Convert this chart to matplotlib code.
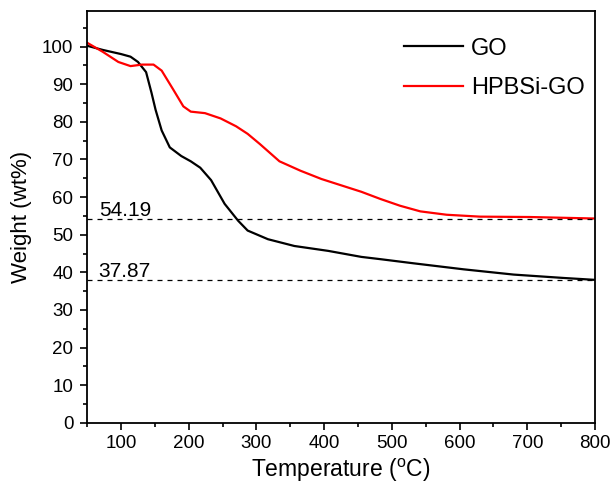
"""TGA curves of GO and HPBSi-GO."""

import matplotlib
matplotlib.use("Agg")
import matplotlib.pyplot as plt
from matplotlib.ticker import MultipleLocator

plt.rcParams["font.family"] = ["Liberation Sans", "DejaVu Sans"]
plt.rcParams["mathtext.fontset"] = "custom"
plt.rcParams["mathtext.rm"] = "Liberation Sans"

# values
go_temp = [50, 73, 100, 114, 125, 137, 145, 151, 160, 172, 189, 203, 217, 233,
           253, 273, 287, 317, 356, 406, 455, 483, 532, 606, 680, 754, 800]
go_weight = [100.2, 99.1, 98.0, 97.3, 95.9, 93.2, 87.7, 83.2, 77.7, 73.2, 70.9,
             69.5, 67.8, 64.5, 58.2, 53.7, 51.1, 48.8, 47.0, 45.7, 44.1, 43.5,
             42.4, 40.8, 39.4, 38.5, 38.0]

hp_temp = [50, 73, 96, 114, 131, 148, 160, 177, 192, 203, 224, 247, 270, 287,
           305, 334, 365, 396, 455, 483, 512, 542, 581, 630, 704, 800]
hp_weight = [101.0, 98.6, 95.9, 94.8, 95.2, 95.2, 93.6, 88.6, 84.1, 82.7, 82.3,
             80.9, 78.8, 76.8, 74.1, 69.5, 67.0, 64.8, 61.4, 59.5, 57.7, 56.2,
             55.3, 54.8, 54.7, 54.3]

residues = [54.19, 37.87]


def main() -> None:
    fig = plt.figure(figsize=(6.14, 4.90), dpi=100)
    ax = fig.add_axes([0.142, 0.137, 0.827, 0.841])

    ax.plot(go_temp, go_weight, color="black", lw=1.6, label="GO")
    ax.plot(hp_temp, hp_weight, color="#ff0000", lw=1.6, label="HPBSi-GO")

    for r in residues:
        ax.axhline(r, color="black", lw=0.9, ls=(0, (4, 4)))
        ax.text(67, r + 0.9, f"{r:.2f}", fontsize=15, ha="left", va="baseline")

    ax.set_xlim(50, 800)
    ax.set_ylim(0, 109.5)
    ax.xaxis.set_minor_locator(MultipleLocator(50))
    ax.yaxis.set_minor_locator(MultipleLocator(5))
    ax.set_xticks(range(100, 801, 100))
    ax.set_yticks(range(0, 101, 10))

    ax.tick_params(which="both", direction="out", top=False, right=False,
                   width=1.2, labelsize=13.5)
    ax.tick_params(axis="y", which="major", pad=5)
    ax.tick_params(which="major", length=5)
    ax.tick_params(which="minor", length=3)
    for s in ax.spines.values():
        s.set_linewidth(1.3)

    ax.set_xlabel("Temperature ($^{\\mathrm{o}}$C)", fontsize=16.5, labelpad=4)
    ax.set_ylabel("Weight (wt%)", fontsize=16, labelpad=7)

    ax.legend(loc="upper right", bbox_to_anchor=(0.98, 0.935), frameon=False,
              fontsize=17, handlelength=2.5, handletextpad=0.35,
              labelspacing=0.75, borderaxespad=0, borderpad=0)

    fig.savefig("out.png", dpi=100)


if __name__ == "__main__":
    main()
